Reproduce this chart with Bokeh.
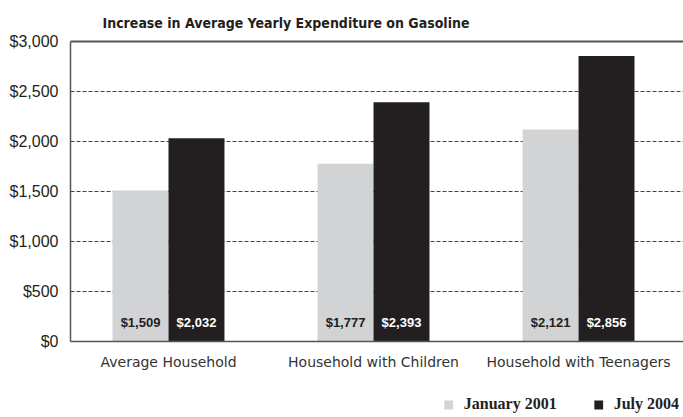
from bokeh.plotting import figure
from bokeh.models import (ColumnDataSource, FixedTicker, NumeralTickFormatter, LinearAxis,
                          Legend, LegendItem, Range1d, Grid)
from bokeh.transform import dodge
from bokeh.core.properties import value
from bokeh.embed import file_html
from bokeh.resources import INLINE

categories = ["Average Household", "Household with Children", "Household with Teenagers"]
jan_2001 = [1509, 1777, 2121]
jul_2004 = [2032, 2393, 2856]
jan_labels = ["$1,509", "$1,777", "$2,121"]
jul_labels = ["$2,032", "$2,393", "$2,856"]
y_ticks = [0, 500, 1000, 1500, 2000, 2500, 3000]

GRAY = "#d1d3d4"
BLACK = "#231f20"

src = ColumnDataSource(dict(idx=list(range(len(categories))), cat=categories,
                            jan=jan_2001, jul=jul_2004,
                            jl=jan_labels, ul=jul_labels, zero=[0] * len(categories)))

# the frame reaches the bottom of the page so that the category labels and the
# legend (which sit below the $0 baseline) are drawn inside it
p = figure(width=683, height=417, output_backend="svg", toolbar_location=None,
           x_axis_type=None,
           x_range=Range1d(-0.478, 2.512), y_range=Range1d(-760, 3000),
           min_border_left=70, min_border_right=0, min_border_top=41, min_border_bottom=0)
p.outline_line_color = None
p.background_fill_color = "white"
p.border_fill_color = "white"

BW = 0.273
r1 = p.vbar(x=dodge("idx", -BW / 2, range=p.x_range), top="jan", width=BW, source=src,
            fill_color=GRAY, line_color=None)
r2 = p.vbar(x=dodge("idx", BW / 2, range=p.x_range), top="jul", width=BW, source=src,
            fill_color=BLACK, line_color=None)

for col, off, colr in (("jl", -BW / 2, BLACK), ("ul", BW / 2, "white")):
    p.text(x=dodge("idx", off, range=p.x_range), y="zero", text=col, source=src,
           text_color=colr, text_font=value("Liberation Sans"), text_font_style="bold",
           text_font_size="13px", text_align="center", text_baseline="middle", y_offset=-19)

# category labels under the baseline
p.text(x="idx", y="zero", text="cat", source=src, text_color="#333333",
       text_font=value("DejaVu Sans"), text_font_size="14px",
       text_align="center", text_baseline="middle", y_offset=20)

# title
p.title.text = "Increase in Average Yearly Expenditure on Gasoline"
p.title.align = "left"
p.title.offset = 32
p.title.text_font = "DejaVu Sans Condensed"
p.title.text_font_size = "14px"
p.title.text_font_style = "bold"
p.title.text_color = BLACK
p.title.standoff = 21

ya = p.yaxis[0]
ya.ticker = FixedTicker(ticks=y_ticks)
ya.bounds = (0, 3000)
ya.formatter = NumeralTickFormatter(format="$0,0")
ya.major_label_text_font = "Liberation Sans"
ya.major_label_text_font_size = "16px"
ya.major_label_text_color = BLACK
ya.major_tick_line_color = None
ya.major_tick_out = 0
ya.minor_tick_line_color = None
ya.axis_line_color = "#555555"
ya.axis_line_width = 1.5
ya.major_label_standoff = 12

top_axis = LinearAxis(ticker=FixedTicker(ticks=[]),
                      major_tick_line_color=None, minor_tick_line_color=None,
                      major_tick_out=0, major_label_standoff=0,
                      axis_line_color="#555555", axis_line_width=2)
p.add_layout(top_axis, "above")

p.xgrid.grid_line_color = None
p.ygrid.ticker = FixedTicker(ticks=y_ticks[1:])
p.ygrid.grid_line_color = "#444444"
p.ygrid.grid_line_dash = "4 2"
p.ygrid.grid_line_width = 1

baseline = Grid(dimension=1, ticker=FixedTicker(ticks=[0]), grid_line_color="#555555",
                grid_line_width=1.5, level="guide")
p.add_layout(baseline)

legend = Legend(items=[LegendItem(label="January 2001", renderers=[r1]),
                       LegendItem(label="July 2004", renderers=[r2])],
                orientation="horizontal", location="bottom_right",
                label_text_font="Liberation Serif", label_text_font_style="bold",
                label_text_font_size="16px", label_text_color=BLACK,
                glyph_width=11, glyph_height=11, label_standoff=10, spacing=36,
                border_line_color=None, background_fill_alpha=0, padding=0, margin=4)
p.add_layout(legend)

open("out.html", "w").write(file_html(p, INLINE))
